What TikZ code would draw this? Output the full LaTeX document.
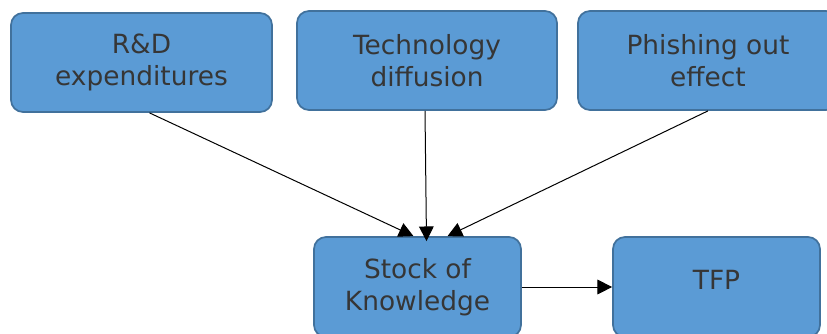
\documentclass[tikz,border=0pt]{standalone}
\usepackage{fontspec}
\setmainfont{DejaVu Sans}
\usetikzlibrary{arrows.meta,calc}
\definecolor{boxfill}{HTML}{5B9BD5}
\definecolor{boxline}{HTML}{41719C}
\definecolor{boxtext}{HTML}{363636}
\begin{document}
\begin{tikzpicture}[x=0.75pt,y=-0.75pt,
  block/.style={draw=boxline,fill=boxfill,line width=1.3pt,rounded corners=9pt,
    text=boxtext,align=center,inner sep=0pt,
    font=\fontsize{19.8pt}{24pt}\selectfont},
  flow/.style={draw=black,line width=0.75pt,-{Triangle[length=11pt,width=11pt]}}]
\useasboundingbox (0,0) rectangle (827,333);
\clip (0,0) rectangle (827,333);
\node[block,minimum width=195.75pt,minimum height=74.25pt] (rd)  at (141.5,62.5) {R\&D\\expenditures};
\node[block,minimum width=195pt,minimum height=74.25pt]    (td)  at (427,60.5)   {Technology\\diffusion};
\node[block,minimum width=195pt,minimum height=74.25pt]    (po)  at (708,60.5)   {Phishing out\\effect};
\node[block,minimum width=155.25pt,minimum height=75pt]    (sk)  at (417.5,287)  {Stock of\\Knowledge};
\node[block,minimum width=155.25pt,minimum height=75pt,text depth=10.5pt] (tfp) at (716.5,287) {TFP};
\draw[flow] ($(rd.south)+(8,0)$)  -- ($(sk.north)+(-4,0)$);
\draw[flow] ($(td.south)+(-2,0)$) -- ($(sk.north)+(9,5)$);
\draw[flow] ($(po.south)+(0,0)$)  -- ($(sk.north)+(30,0)$);
\draw[flow] (sk.east) -- (tfp.west);
\end{tikzpicture}
\end{document}
